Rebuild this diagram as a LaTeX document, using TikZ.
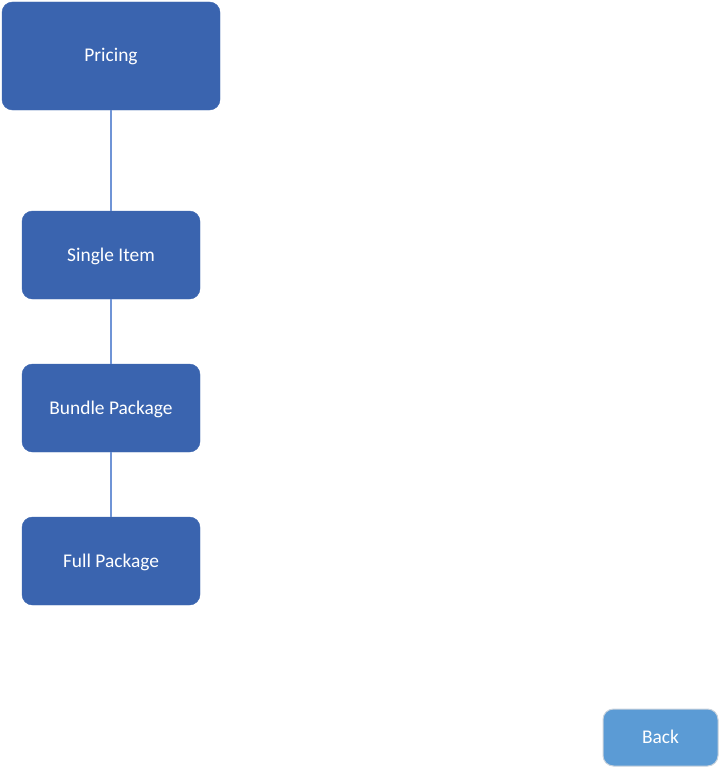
\documentclass[tikz,border=0pt]{standalone}
\usepackage{fontspec}
\setmainfont{Carlito}
\definecolor{boxblue}{HTML}{3A64AF}
\definecolor{linkblue}{HTML}{6F94D6}
\definecolor{backblue}{HTML}{5B9BD5}
\definecolor{backedge}{HTML}{C8D2DC}
\begin{document}
\begin{tikzpicture}[x=1pt,y=-1pt,
  box/.style={draw=boxblue,fill=boxblue,rounded corners=10.5pt,text=white,font=\fontsize{19.4}{23}\selectfont,inner sep=0pt,anchor=center,text height=14pt,text depth=2pt},
  link/.style={draw=linkblue,line width=1.2pt}]
\useasboundingbox (0,0) rectangle (719,768);
\node[box,minimum width=218pt,minimum height=108pt] (pricing) at (111,56) {Pricing};
\node[box,minimum width=178pt,minimum height=88pt] (single) at (111,255) {Single Item};
\node[box,minimum width=178pt,minimum height=88pt] (bundle) at (111,408) {Bundle Package};
\node[box,minimum width=178pt,minimum height=88pt] (full) at (111,561) {Full Package};
\node[box,draw=backedge,fill=backblue,line width=1pt,minimum width=115pt,minimum height=57pt] (back) at (660.5,737.5) {Back};
\draw[link] (pricing.south) -- (single.north);
\draw[link] (single.south) -- (bundle.north);
\draw[link] (bundle.south) -- (full.north);
\end{tikzpicture}
\end{document}
